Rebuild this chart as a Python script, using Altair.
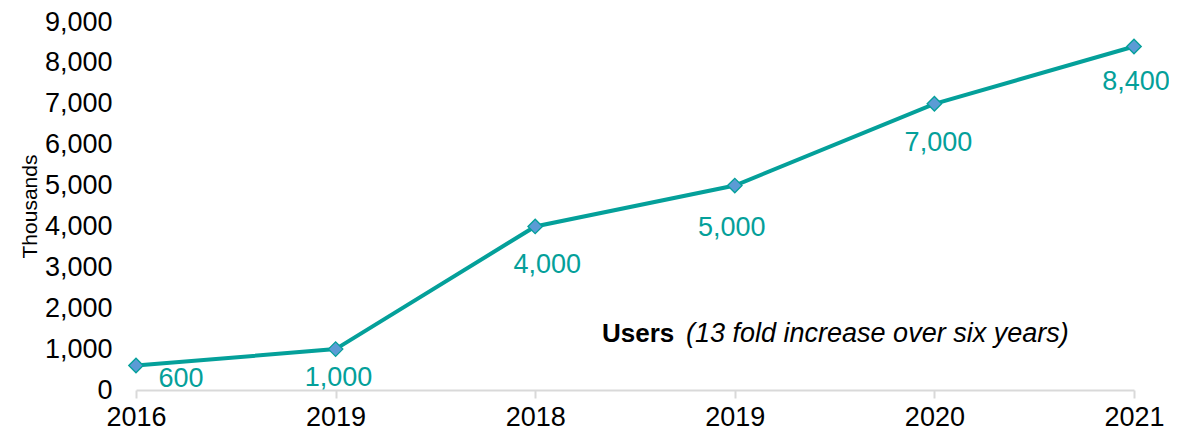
import altair as alt
import pandas as pd

years = ["2016", "2019", "2018", "2019", "2020", "2021"]
users = [600, 1000, 4000, 5000, 7000, 8400]

df = pd.DataFrame({"idx": list(range(len(years))), "year": years, "users": users})
df["label"] = df["users"].map(lambda v: f"{v:,}")

label_expr = "[" + ",".join(f"'{y}'" for y in years) + "][datum.value]"

TEAL = "#04a09a"
FONT = "Liberation Sans"

# label placement (styling), per point index: (dx, dy)
LABEL_OFFSETS = {0: (45, 14), 1: (3, 29), 2: (12, 39), 3: (-3, 42), 4: (4, 39), 5: (2, 35)}

x = alt.X("idx:O", scale=alt.Scale(type="point", padding=0),
          axis=alt.Axis(title=None, labelExpr=label_expr))
y = alt.Y("users:Q", scale=alt.Scale(domain=[0, 9000], nice=False),
          axis=alt.Axis(title="Thousands", values=list(range(0, 9001, 1000)), format=",.0f"))

base = alt.Chart(df)

line = base.mark_line(color=TEAL, strokeWidth=4).encode(x=x, y=y)
pts = base.mark_point(shape="diamond", filled=True, size=210, fill="#5b9bd5",
                      stroke=TEAL, strokeWidth=1.3, opacity=1).encode(x=x, y=y)

labels = []
for i, (ddx, ddy) in LABEL_OFFSETS.items():
    labels.append(base.transform_filter(f"datum.idx == {i}").mark_text(
        color=TEAL, fontSize=27, font=FONT, dx=ddx, dy=ddy,
        align="center", baseline="middle"
    ).encode(x=x, y=y, text="label:N"))

ann_bold = base.transform_filter("datum.idx == 0").mark_text(
    text="Users", fontSize=26, fontWeight="bold", font=FONT, color="#000000",
    align="left", baseline="middle"
).encode(x=alt.value(466), y=alt.value(312))
ann_it = base.transform_filter("datum.idx == 0").mark_text(
    text="(13 fold increase over six years)", fontSize=27, fontStyle="italic",
    font=FONT, color="#000000", align="left", baseline="middle"
).encode(x=alt.value(550), y=alt.value(312))

chart = alt.layer(line, pts, *labels, ann_bold, ann_it).properties(
    width=998, height=368,
    autosize=alt.AutoSizeParams(type="none"),
    padding={"left": 128, "top": 14, "right": 35, "bottom": 40},
    background="#ffffff",
).configure_view(stroke=None).configure_axis(
    labelFont=FONT, labelFontSize=27, labelColor="#000000",
    titleFont=FONT, titleFontSize=21, titleFontWeight="normal", titleColor="#000000",
    grid=False,
).configure_axisX(
    labelAngle=0, labelPadding=6, domainColor="#d9d9d9", domainWidth=2,
    tickColor="#d9d9d9", tickWidth=2, tickSize=8,
).configure_axisY(
    domain=False, ticks=False, labelPadding=24, titlePadding=4,
)

chart.save("out.html", embed_options={"renderer": "svg", "actions": False})
